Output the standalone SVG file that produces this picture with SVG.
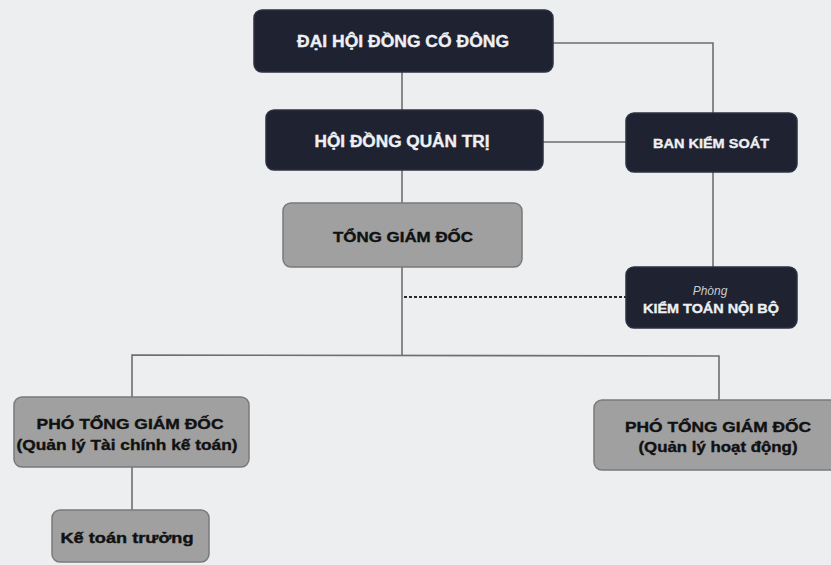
<svg xmlns="http://www.w3.org/2000/svg" width="831" height="565" viewBox="0 0 831 565">
<defs>
<style>
.bg{fill:#eceef0}
.dark{fill:#1f2230;stroke:#2c3040;stroke-width:1.5}
.gray{fill:#a0a0a0;stroke:#7a7a7a;stroke-width:1.5}
.line{fill:none;stroke:#6e6e6e;stroke-width:1.6}
.dot{fill:none;stroke:#2a2a2a;stroke-width:2;stroke-dasharray:3 2}
text{font-family:"Liberation Sans",Arial,sans-serif;font-weight:bold;text-anchor:middle}
.w{fill:#eef0f4;stroke:#eef0f4;stroke-width:0.35}
.b{fill:#111111;stroke:#111111;stroke-width:0.4}
.sub{fill:#c8ccd4;font-style:italic;font-weight:normal}
</style>
</defs>
<rect class="bg" x="0" y="0" width="831" height="565"/>
<g id="connectors">
<polyline class="line" points="553,43 713,43 713,113"/>
<line class="line" x1="402" y1="72" x2="402" y2="110"/>
<line class="line" x1="543" y1="142" x2="626" y2="142"/>
<line class="line" x1="713" y1="172" x2="713" y2="267"/>
<line class="line" x1="402" y1="170" x2="402" y2="203"/>
<line class="line" x1="402" y1="267" x2="402" y2="355"/>
<line class="dot" x1="404" y1="297" x2="626" y2="297"/>
<polyline class="line" points="132,397 132,355 719,356 719,400"/>
<line class="line" x1="132" y1="467" x2="132" y2="510"/>
</g>
<g id="dai-hoi-dong-co-dong">
<rect class="dark" x="254" y="10" width="299" height="62" rx="8"/>
<text class="w" x="403" y="47" font-size="16" textLength="212" lengthAdjust="spacingAndGlyphs">ĐẠI HỘI ĐỒNG CỔ ĐÔNG</text>
</g>
<g id="hoi-dong-quan-tri">
<rect class="dark" x="266" y="110" width="277" height="60" rx="8"/>
<text class="w" x="402" y="147" font-size="16" textLength="175" lengthAdjust="spacingAndGlyphs">HỘI ĐỒNG QUẢN TRỊ</text>
</g>
<g id="ban-kiem-soat">
<rect class="dark" x="626" y="113" width="171" height="59" rx="8"/>
<text class="w" x="711" y="148" font-size="13" textLength="116" lengthAdjust="spacingAndGlyphs">BAN KIỂM SOÁT</text>
</g>
<g id="tong-giam-doc">
<rect class="gray" x="283" y="203" width="239" height="64" rx="8"/>
<text class="b" x="403" y="242" font-size="15.5" textLength="140" lengthAdjust="spacingAndGlyphs">TỔNG GIÁM ĐỐC</text>
</g>
<g id="kiem-toan-noi-bo">
<rect class="dark" x="626" y="267" width="171" height="61" rx="8"/>
<text class="sub" x="710" y="295" font-size="12">Phòng</text>
<text class="w" x="711" y="313" font-size="13.5" textLength="136" lengthAdjust="spacingAndGlyphs">KIỂM TOÁN NỘI BỘ</text>
</g>
<g id="pho-tgd-tai-chinh">
<rect class="gray" x="14" y="397" width="235" height="70" rx="8"/>
<text class="b" x="130" y="429" font-size="15.5" textLength="187" lengthAdjust="spacingAndGlyphs">PHÓ TỔNG GIÁM ĐỐC</text>
<text class="b" x="127" y="450" font-size="15.5" textLength="221" lengthAdjust="spacingAndGlyphs">(Quản lý Tài chính kế toán)</text>
</g>
<g id="pho-tgd-hoat-dong">
<rect class="gray" x="594" y="400" width="245" height="70" rx="8"/>
<text class="b" x="718" y="432" font-size="15.5" textLength="186" lengthAdjust="spacingAndGlyphs">PHÓ TỔNG GIÁM ĐỐC</text>
<text class="b" x="718" y="452" font-size="15.5" textLength="159" lengthAdjust="spacingAndGlyphs">(Quản lý hoạt động)</text>
</g>
<g id="ke-toan-truong">
<rect class="gray" x="52" y="510" width="157" height="52" rx="8"/>
<text class="b" x="127" y="543" font-size="15.5" textLength="133" lengthAdjust="spacingAndGlyphs">Kế toán trưởng</text>
</g>
</svg>
